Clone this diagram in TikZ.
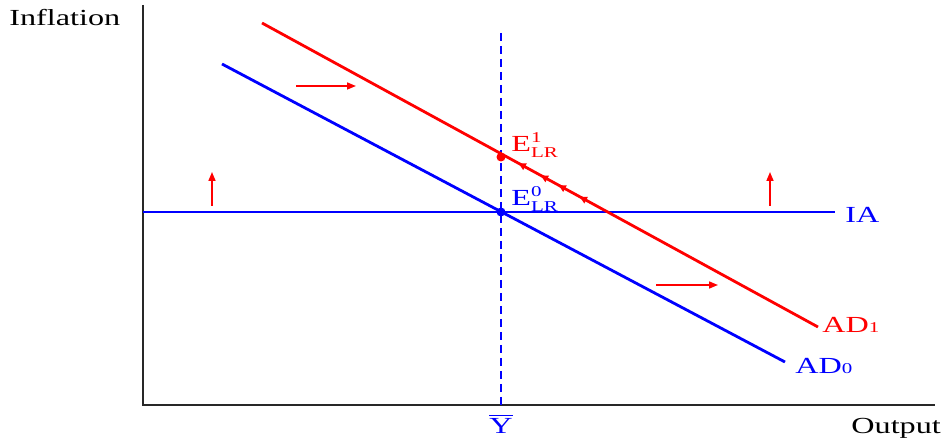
\documentclass[tikz,border=0pt]{standalone}
\usepackage{fontspec}
\usepackage{graphicx}
\setmainfont{Liberation Serif}
\usetikzlibrary{arrows.meta,decorations.markings}
\newcommand\hs[1]{\scalebox{1.4}[1]{#1}}
\newcommand\subsm[1]{{\fontsize{7.5}{8}\selectfont #1}}
\definecolor{myred}{RGB}{255,0,0}
\definecolor{myblue}{RGB}{0,0,255}
\definecolor{axisgray}{RGB}{40,40,40}
\begin{document}
\begin{tikzpicture}[x=0.5pt,y=-0.5pt,
  lab/.style={font=\fontsize{11.5}{13}\selectfont, inner sep=0pt},
  axisline/.style={draw=axisgray, line width=1pt},
  curve/.style={line width=1.4pt},
  shiftarrow/.style={draw=myred, line width=0.8pt, -{Triangle[length=4.5pt,width=3.5pt]}},
  dot/.style={circle, inner sep=0pt, minimum size=4.5pt}]
\useasboundingbox (0,0) rectangle (949,443);
% coordinates
\coordinate (ytop) at (143,5);
\coordinate (orig) at (143,405);
\coordinate (xend) at (935,405);
\coordinate (vtop) at (501,33);
\coordinate (vbot) at (501,405);
\coordinate (iaL) at (143,212);
\coordinate (iaR) at (835,212);
\coordinate (ad0s) at (222,64);
\coordinate (ad0e) at (785,362);
\coordinate (ad1s) at (262,23);
\coordinate (ad1e) at (818,327);
% axes
\draw[axisline] (ytop) -- (orig) -- (xend);
% dashed potential output
\draw[myblue, line width=0.9pt, dash pattern=on 4pt off 2.5pt] (vtop) -- (vbot);
% IA line
\draw[myblue, line width=1pt] (iaL) -- (iaR);
% AD curves
\draw[myblue, curve] (ad0s) -- (ad0e);
\draw[myred, curve, postaction={decorate, decoration={markings,
   mark=at position 0.473 with {\arrow{Latex[length=4.5pt,width=4pt,reversed]}},
   mark=at position 0.513 with {\arrow{Latex[length=4.5pt,width=4pt,reversed]}},
   mark=at position 0.545 with {\arrow{Latex[length=4.5pt,width=4pt,reversed]}},
   mark=at position 0.583 with {\arrow{Latex[length=4.5pt,width=4pt,reversed]}}}}] (ad1s) -- (ad1e);
% equilibrium dots
\node[dot, fill=myred] (e1) at (501,157) {};
\node[dot, fill=myblue] (e0) at (501,212) {};
% shift arrows
\coordinate (a1s) at (296,86); \coordinate (a1e) at (356,86);
\coordinate (a2s) at (656,285); \coordinate (a2e) at (718,285);
\coordinate (u1s) at (212,206); \coordinate (u1e) at (212,172);
\coordinate (u2s) at (770,206); \coordinate (u2e) at (770,172);
\draw[shiftarrow] (a1s) -- (a1e);
\draw[shiftarrow] (a2s) -- (a2e);
\draw[shiftarrow] (u1s) -- (u1e);
\draw[shiftarrow] (u2s) -- (u2e);
% labels
\node[lab, anchor=west] (inf) at (9,18) {\hs{Inflation}};
\node[lab, anchor=west] (out) at (851,428) {\hs{Output}};
\node[lab, anchor=west, text=myblue] (ia) at (845,215) {\hs{IA}};
\node[lab, anchor=west, text=myred] (ad1l) at (822,325) {\hs{AD\subsm{1}}};
\node[lab, anchor=west, text=myblue] (ad0l) at (795,366) {\hs{AD\subsm{0}}};
\node[lab, anchor=west, text=myred] (e1l) at (511,145) {\hs{E$^{\mbox{\subsm{1}}}_{\mbox{\subsm{LR}}}$}};
\node[lab, anchor=west, text=myblue] (e0l) at (511,199) {\hs{E$^{\mbox{\subsm{0}}}_{\mbox{\subsm{LR}}}$}};
\node[lab, text=myblue] (ybar) at (501,424) {\hs{$\overline{\mbox{Y}}$}};
\end{tikzpicture}
\end{document}
